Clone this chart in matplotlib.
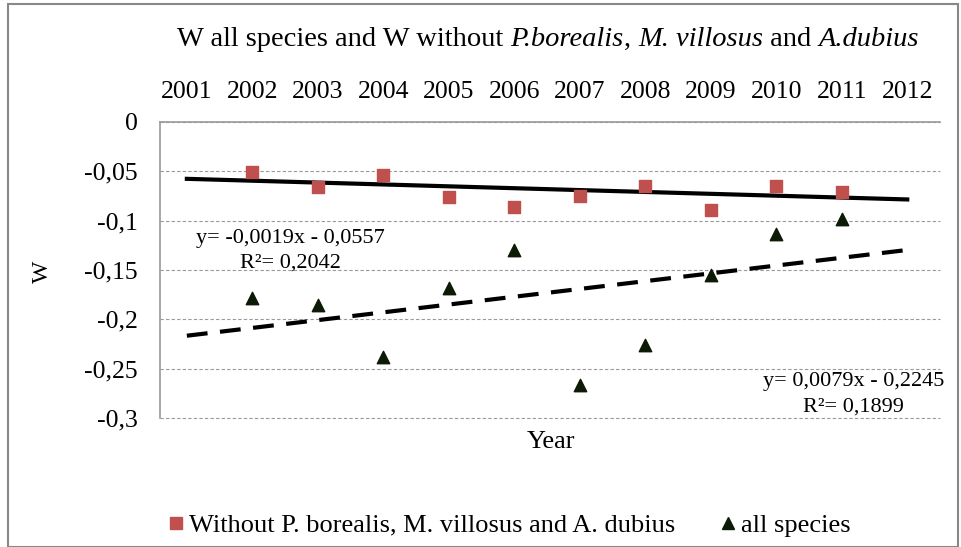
import matplotlib.pyplot as plt
import numpy as np
from matplotlib.ticker import FuncFormatter
from matplotlib.lines import Line2D

plt.rcParams['font.family'] = ['Liberation Serif', 'DejaVu Serif']

# data
years = [2002, 2003, 2004, 2005, 2006, 2007, 2008, 2009, 2010, 2011]
w_without = [-0.051, -0.066, -0.054, -0.076, -0.086, -0.075, -0.065, -0.089, -0.065, -0.071]
w_all = [-0.178, -0.185, -0.238, -0.168, -0.130, -0.267, -0.226, -0.155, -0.114, -0.098]
tick_years = list(range(2001, 2013))

# trend line coefficients (x = 1 for 2001)
fit_without = (-0.0019, -0.0557)
fit_all = (0.0079, -0.2245)

title_parts = [('W all species and W without ', 'normal'), ('P.borealis', 'italic'),
               (', ', 'normal'), ('M. villosus', 'italic'), (' and ', 'normal'),
               ('A.dubius', 'italic')]

fig = plt.figure(figsize=(9.62, 5.47), dpi=100)
ax = fig.add_axes([160 / 962, 1 - 418 / 547, 780 / 962, 296 / 547])

ax.scatter(years, w_without, marker='s', s=70, color='#C0504D', zorder=3)
ax.scatter(years, w_all, marker='^', s=80, color='#0d1a05', zorder=3)

xt = np.array([2001, 2012])
ax.plot(xt, fit_without[0] * (xt - 2000) + fit_without[1], color='black', lw=3, zorder=2)
ax.plot(xt, fit_all[0] * (xt - 2000) + fit_all[1], color='black', lw=3,
        ls=(0, (5, 3)), zorder=2)

ax.set_xlim(2000.59, 2012.5)
ax.set_ylim(-0.3, 0)
ax.set_yticks([0, -0.05, -0.1, -0.15, -0.2, -0.25, -0.3])
ax.yaxis.set_major_formatter(FuncFormatter(lambda v, p: ('%g' % round(v, 2)).replace('.', ',')))
ax.set_xticks(tick_years)
ax.xaxis.tick_top()
ax.tick_params(length=0, labelsize=18.5)
ax.tick_params(axis='y', pad=16)
ax.tick_params(axis='x', pad=14)
ax.grid(axis='y', ls=(0, (3, 2)), color='#999999', lw=0.8)
for gl in ax.get_ygridlines():
    gl.set_clip_on(False)
for s in ['right', 'bottom']:
    ax.spines[s].set_visible(False)
for s in ['left', 'top']:
    ax.spines[s].set_color('#999999')
    ax.spines[s].set_linewidth(1.2)

ax.set_ylabel('W', fontsize=17)
ax.yaxis.set_label_coords(-0.137, 0.493)
fig.text(551 / 962, 1 - 442 / 547, 'Year', ha='center', va='center', fontsize=19)

# title built from plain and italic pieces
renderer = fig.canvas.get_renderer()
pieces = [fig.text(0, 1 - 39 / 547, t, style=st, fontsize=20.5, va='center') for t, st in title_parts]
widths = [p.get_window_extent(renderer).width for p in pieces]
x0 = 548 - sum(widths) / 2
for p, w in zip(pieces, widths):
    p.set_x(x0 / 962)
    x0 += w

ax.text(2001.14, -0.1176, 'y= -0,0019x - 0,0557', fontsize=16, ha='left', va='center')
ax.text(2002.58, -0.1429, 'R²= 0,2042', fontsize=16, ha='center', va='center')
ax.text(2012.57, -0.2635, 'y= 0,0079x - 0,2245', fontsize=16, ha='right', va='center')
ax.text(2011.18, -0.2889, 'R²= 0,1899', fontsize=16, ha='center', va='center')

handles = [Line2D([], [], marker='s', color='#C0504D', ls='none', ms=8),
           Line2D([], [], marker='^', color='#0d1a05', ls='none', ms=9)]
fig.legend(handles, ['Without P. borealis, M. villosus and A. dubius', 'all species'],
           loc='center', bbox_to_anchor=(508 / 962, 1 - 525 / 547), ncol=2, frameon=False,
           fontsize=19, handletextpad=0.1, columnspacing=1.6, handlelength=0.8,
           borderaxespad=0, borderpad=0)

fig.patches.append(plt.Rectangle((8 / 962, 0.0), 950 / 962, 1 - 4 / 547,
                                 transform=fig.transFigure, fill=False,
                                 edgecolor='#888888', lw=1.5))

fig.savefig('out.png', dpi=100)
